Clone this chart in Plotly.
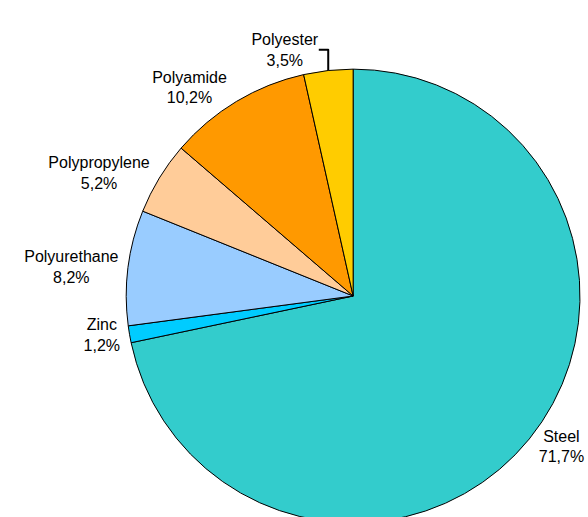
import plotly.graph_objects as go

labels = ["Steel", "Zinc", "Polyurethane", "Polypropylene", "Polyamide", "Polyester"]
values = [71.7, 1.2, 8.2, 5.2, 10.2, 3.5]
colors = ["#33CCCC", "#00CCFF", "#99CCFF", "#FFCC99", "#FF9900", "#FFCC00"]

W, H = 588, 560
fig = go.Figure(go.Pie(
    labels=labels,
    values=values,
    sort=False,
    direction="clockwise",
    rotation=0,
    marker=dict(colors=colors, line=dict(color="black", width=1)),
    textposition="outside",
    texttemplate="%{label}<br>%{value:.1f}%",
    textfont=dict(family="Liberation Sans, Arial, sans-serif", size=16, color="black"),
    hoverinfo="label+value",
    domain=dict(x=[128 / W, 1.0], y=[1 - 526 / H, 1 - 66 / H]),
))
fig.update_layout(
    width=W, height=H,
    margin=dict(l=0, r=0, t=0, b=0),
    showlegend=False,
    separators=",.",
    paper_bgcolor="white",
    plot_bgcolor="white",
)
fig.write_html(
    "out.html",
    config={"displayModeBar": False},
    post_script="document.body.style.margin='0';document.body.style.overflow='hidden';",
)
